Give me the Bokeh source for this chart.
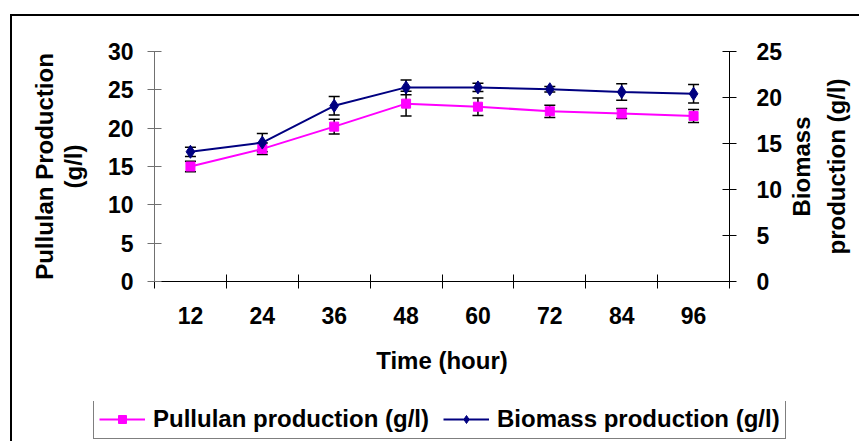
import math
from bokeh.plotting import figure
from bokeh.layouts import column, row
from bokeh.models import (Range1d, LinearAxis, FixedTicker, Legend, LegendItem,
                          ColumnDataSource, Label)
from bokeh.embed import file_html
from bokeh.resources import INLINE

# ---- data ----
times = ["12", "24", "36", "48", "60", "72", "84", "96"]
pullulan = [15.0, 17.3, 20.2, 23.2, 22.8, 22.2, 21.9, 21.6]
pullulan_err = [0.7, 0.75, 0.95, 1.6, 1.15, 0.8, 0.65, 0.85]
biomass = [14.1, 15.1, 19.1, 21.1, 21.1, 20.9, 20.6, 20.4]
biomass_err = [0.5, 1.0, 1.0, 0.8, 0.45, 0.3, 0.9, 1.0]
left_ticks = [0, 5, 10, 15, 20, 25, 30]
right_ticks = [0, 5, 10, 15, 20, 25]
right_title = ["Biomass", "production (g/l)"]

FONT = "Liberation Sans"
MAGENTA = "#FF00FF"
NAVY = "#000080"

x_pos = list(range(1, len(times) + 1))
x_bounds = [i + 0.5 for i in range(len(times) + 1)]


def bare(fig):
    fig.xgrid.grid_line_color = None
    fig.ygrid.grid_line_color = None
    fig.outline_line_color = None
    fig.background_fill_color = "white"
    fig.border_fill_color = "white"
    fig.frame_align = False


W, H = 773, 385
p = figure(width=W, height=H,
           x_range=Range1d(0.5, len(times) + 0.5), y_range=Range1d(0, 30),
           output_backend="svg", toolbar_location=None,
           min_border_left=142, min_border_right=W - 717,
           min_border_top=35, min_border_bottom=H - 265)
p.extra_y_ranges = {"bio": Range1d(0, 25)}
bare(p)


def style_axis(ax, color="black"):
    ax.axis_line_color = color
    ax.axis_line_width = 1
    ax.major_tick_line_color = color
    ax.minor_tick_line_color = color
    ax.major_label_text_font = FONT
    ax.major_label_text_font_style = "bold"
    ax.major_label_text_font_size = "23px"
    ax.major_label_text_color = "black"
    ax.axis_label_text_font = FONT
    ax.axis_label_text_font_style = "bold"
    ax.axis_label_text_font_size = "24px"
    ax.axis_label_text_color = "black"


# left axis
yl = p.left[0]
yl.ticker = FixedTicker(ticks=left_ticks)
style_axis(yl, "#707070")
yl.major_tick_in = 7
yl.major_tick_out = 7
yl.minor_tick_in = 0
yl.minor_tick_out = 0
yl.major_label_standoff = 14
yl.axis_label = "Pullulan Production\n(g/l)"
yl.axis_label_standoff = 18
yl.axis_label_text_line_height = 1.06

# bottom axis
xb = p.below[0]
xb.ticker = FixedTicker(ticks=x_pos, minor_ticks=x_bounds)
style_axis(xb, "black")
xb.major_tick_in = 0
xb.major_tick_out = 0
xb.minor_tick_in = 7
xb.minor_tick_out = 7
xb.major_label_overrides = {x: t for x, t in zip(x_pos, times)}
xb.major_label_standoff = 18
xb.axis_label = "Time (hour)"
xb.axis_label_standoff = 20

# right axis (its title is drawn in the strip beside it, reading upwards)
yr = LinearAxis(y_range_name="bio", ticker=FixedTicker(ticks=right_ticks))
style_axis(yr, "black")
yr.major_tick_in = 7
yr.major_tick_out = 7
yr.minor_tick_in = 0
yr.minor_tick_out = 0
yr.major_label_standoff = 20
p.add_layout(yr, "right")

# ---- error bars ----
src_p = ColumnDataSource(dict(
    x=x_pos, y=pullulan,
    lo=[v - e for v, e in zip(pullulan, pullulan_err)],
    hi=[v + e for v, e in zip(pullulan, pullulan_err)]))
src_b = ColumnDataSource(dict(
    x=x_pos, y=biomass,
    lo=[v - e for v, e in zip(biomass, biomass_err)],
    hi=[v + e for v, e in zip(biomass, biomass_err)]))

for src, rng in ((src_p, "default"), (src_b, "bio")):
    p.segment(x0="x", y0="lo", x1="x", y1="hi", source=src, y_range_name=rng,
              line_color="black", line_width=1.5)
    p.scatter(x="x", y="lo", source=src, y_range_name=rng, marker="dash",
              size=11, line_color="black", line_width=1.5)
    p.scatter(x="x", y="hi", source=src, y_range_name=rng, marker="dash",
              size=11, line_color="black", line_width=1.5)

# ---- series ----
LINE_P = dict(line_color=MAGENTA, line_width=2)
MARK_P = dict(marker="square", size=9, fill_color=MAGENTA, line_color=MAGENTA)
LINE_B = dict(line_color=NAVY, line_width=2)
MARK_B = dict(marker="diamond", size=13, fill_color=NAVY, line_color=NAVY)

p.line(x="x", y="y", source=src_p, **LINE_P)
p.scatter(x="x", y="y", source=src_p, **MARK_P)
p.line(x="x", y="y", source=src_b, y_range_name="bio", **LINE_B)
p.scatter(x="x", y="y", source=src_b, y_range_name="bio", **MARK_B)

# ---- right-axis title strip (two centred lines, reading upwards) ----
RW = 72
rt = figure(width=RW, height=H, x_range=Range1d(0, 1), y_range=Range1d(0, 1),
            x_axis_type=None, y_axis_type=None,
            output_backend="svg", toolbar_location=None,
            min_border=0, min_border_left=0, min_border_right=0,
            min_border_top=0, min_border_bottom=0)
bare(rt)
for line_text, lx in zip(right_title, (16, 51)):
    rt.add_layout(Label(x=lx, y=H - 150, x_units="screen", y_units="screen",
                        text=line_text, angle=math.pi / 2,
                        text_align="center", text_baseline="middle",
                        text_font=FONT, text_font_style="bold",
                        text_font_size="24px", text_color="black"))

# ---- legend strip (its own small canvas, so the legend is not clipped) ----
LW, LH = 847, 40
lf = figure(width=LW, height=LH, x_range=Range1d(0, 1), y_range=Range1d(-100, -99),
            x_axis_type=None, y_axis_type=None,
            output_backend="svg", toolbar_location=None,
            min_border=0, min_border_left=0, min_border_right=0,
            min_border_top=0, min_border_bottom=0)
bare(lf)
# same series, outside this strip's view: they only lend their styles to the legend
k_lp = lf.line(x="x", y="y", source=src_p, **LINE_P)
k_mp = lf.scatter(x="x", y="y", source=src_p, **MARK_P)
k_lb = lf.line(x="x", y="y", source=src_b, **LINE_B)
k_mb = lf.scatter(x="x", y="y", source=src_b, **MARK_B)

legend = Legend(items=[
    LegendItem(label="Pullulan production (g/l)", renderers=[k_lp, k_mp]),
    LegendItem(label="Biomass production (g/l)", renderers=[k_lb, k_mb]),
], location=(81, 2), orientation="horizontal")
legend.margin = 0
legend.padding = 5
legend.spacing = 14
legend.glyph_width = 46
legend.glyph_height = 20
legend.label_standoff = 8
legend.label_text_font = FONT
legend.label_text_font_style = "bold"
legend.label_text_font_size = "24px"
legend.label_text_color = "black"
legend.border_line_color = "black"
legend.border_line_width = 1
legend.background_fill_color = "white"
legend.background_fill_alpha = 1
lf.add_layout(legend, "center")

page = column(row(p, rt, spacing=0), lf, spacing=0)
# chart-area border (only its top and left edges fall inside the window)
page.styles = {"border-left": "2px solid black", "border-top": "2px solid black",
               "margin-left": "10px", "margin-top": "14px"}

open("out.html", "w").write(file_html(page, INLINE))
